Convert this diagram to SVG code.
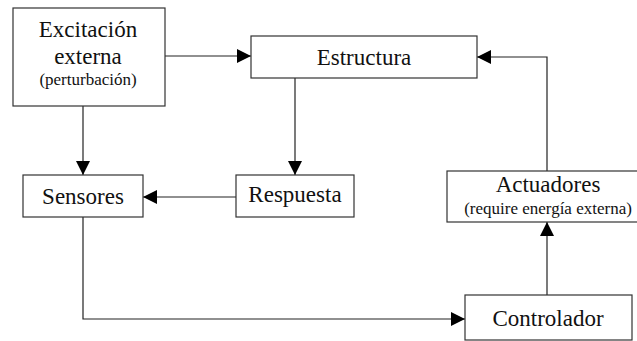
<svg xmlns="http://www.w3.org/2000/svg" width="637" height="341" viewBox="0 0 637 341">
<style>
.box{fill:#fff;stroke:#333;stroke-width:1.2}
.t{font-size:23px;fill:#111;text-anchor:middle}
.s{font-size:17px;fill:#111;text-anchor:middle}
.c{fill:none;stroke:#222;stroke-width:1.2}
</style>
<defs>
<marker id="ah" markerUnits="userSpaceOnUse" markerWidth="14" markerHeight="14" refX="14" refY="7" orient="auto">
<path d="M0,0 L14,7 L0,14 z" fill="#000"/>
</marker>
</defs>
<g id="connectors">
<path class="c" d="M165,56 H251" marker-end="url(#ah)"/>
<path class="c" d="M295,78 V175" marker-end="url(#ah)"/>
<path class="c" d="M83,106 V175" marker-end="url(#ah)"/>
<path class="c" d="M236,197 H143" marker-end="url(#ah)"/>
<path class="c" d="M83,217 V319 H465" marker-end="url(#ah)"/>
<path class="c" d="M547,295 V222" marker-end="url(#ah)"/>
<path class="c" d="M547,171 V57 H477" marker-end="url(#ah)"/>
</g>
<g font-family="Liberation Serif, Tinos, DejaVu Serif, serif">
<g id="excitacion">
<rect class="box" x="13" y="8" width="152" height="98"/>
<text class="t" x="88" y="37">Excitación</text>
<text class="t" x="88" y="64">externa</text>
<text class="s" x="88" y="85">(perturbación)</text>
</g>
<g id="estructura">
<rect class="box" x="251" y="36" width="226" height="42"/>
<text class="t" x="364" y="65">Estructura</text>
</g>
<g id="sensores">
<rect class="box" x="23" y="175" width="120" height="42"/>
<text class="t" x="83" y="204">Sensores</text>
</g>
<g id="respuesta">
<rect class="box" x="236" y="175" width="118" height="42"/>
<text class="t" x="295" y="202">Respuesta</text>
</g>
<g id="actuadores">
<rect class="box" x="447" y="171" width="200" height="51"/>
<text class="t" x="548" y="192">Actuadores</text>
<text class="s" x="548" y="214">(require energía externa)</text>
</g>
<g id="controlador">
<rect class="box" x="465" y="295" width="167" height="45"/>
<text class="t" x="548" y="326">Controlador</text>
</g>
</g>
</svg>
